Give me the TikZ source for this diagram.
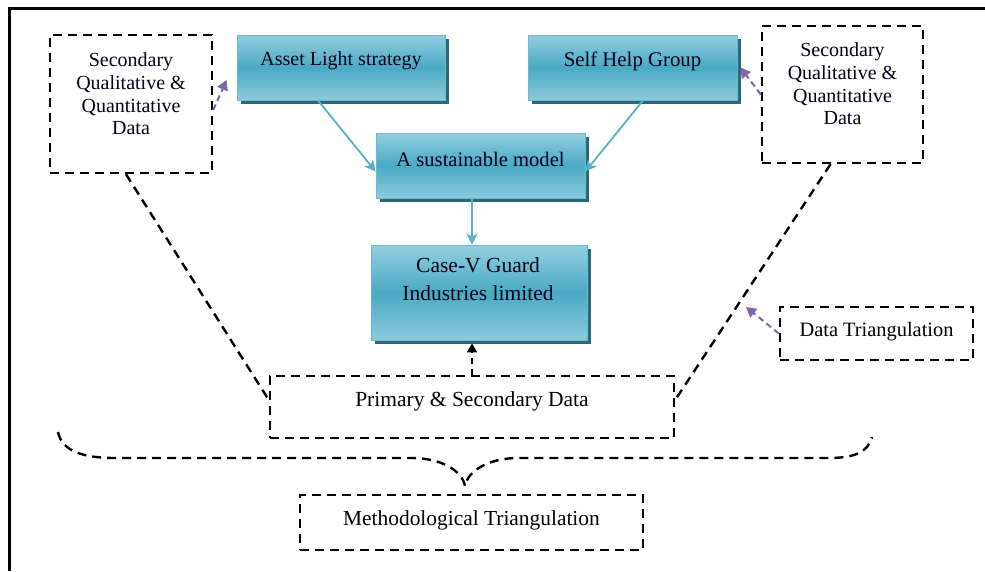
\documentclass[tikz,border=0pt]{standalone}
\usepackage{fontspec}
\setmainfont{Liberation Serif}
\usetikzlibrary{arrows.meta,shadows}
\definecolor{tealtop}{HTML}{93CFDF}
\definecolor{tealmid}{HTML}{4AA9C4}
\definecolor{tealbot}{HTML}{8CCADB}
\definecolor{tealshadow}{HTML}{2C6878}
\definecolor{tealedge}{HTML}{6DB9CD}
\definecolor{tealarrow}{HTML}{56B1C8}
\definecolor{purplearrow}{HTML}{8066A6}
\begin{document}
\begin{tikzpicture}[x=1pt,y=-1pt,
  tealbox/.style={draw=tealedge, line width=0.8pt, top color=tealtop, bottom color=tealbot, middle color=tealmid,
    drop shadow={shadow xshift=3.5pt, shadow yshift=-3.5pt, fill=tealshadow, opacity=1}, inner sep=0pt},
  dbox/.style={draw, line width=2.4pt, dash pattern=on 9pt off 6pt, fill=white, inner sep=0pt},
  dline/.style={draw, line width=2.4pt, dash pattern=on 9pt off 6pt},
  btxt/.style={inner sep=0pt, align=center, font=\fontsize{20}{22.7}\selectfont, text=black!90!blue},
  ttxt/.style={inner sep=0pt, align=center, font=\fontsize{21.4}{24}\selectfont},
  tealarr/.style={draw=tealarrow, line width=1.8pt, -{Stealth[length=11pt,width=11pt,inset=3pt]}},
  purparr/.style={draw=purplearrow, line width=2pt, dash pattern=on 6pt off 4pt, -{Triangle[length=10pt,width=11pt]}},
  blkarr/.style={draw=black, line width=1.6pt, dash pattern=on 6pt off 5pt, -{Triangle[length=9pt,width=10pt]}}
]
\fill[white] (0,0) rectangle (985,571);
\useasboundingbox (0,0) rectangle (985,571);
% frame
\draw[line width=2.7pt] (9.5,571) -- (9.5,8.7) -- (985,8.7);

% dashed boxes
\node[dbox, minimum width=162pt, minimum height=138pt] (lsq) at (131,104) {};
\node[btxt] (lsqT) at (131,94) {Secondary\\Qualitative \&\\Quantitative\\Data};
\node[dbox, minimum width=161pt, minimum height=137pt] (rsq) at (842.5,94.5) {};
\node[btxt] (rsqT) at (842.5,84) {Secondary\\Qualitative \&\\Quantitative\\Data};
\node[dbox, minimum width=404pt, minimum height=62pt] (prim) at (472,407) {};
\node[ttxt, font=\fontsize{21.5}{24}\selectfont] (primT) at (472,401) {Primary \& Secondary Data};
\node[dbox, minimum width=343pt, minimum height=55pt] (meth) at (471.5,522.5) {};
\node[ttxt] (methT) at (471.5,520) {Methodological Triangulation};
\node[dbox, minimum width=193pt, minimum height=53pt] (dtri) at (876.5,333.5) {};
\node[ttxt, font=\fontsize{20.4}{24}\selectfont] (dtriT) at (876.5,332) {Data Triangulation};

% teal boxes
\node[tealbox, minimum width=208pt, minimum height=65pt] (asset) at (341,67.5) {};
\node[btxt] (assetT) at (341,61) {Asset Light strategy};
\node[tealbox, minimum width=209pt, minimum height=65pt] (shg) at (632.5,67.5) {};
\node[btxt, font=\fontsize{20.8}{23}\selectfont] (shgT) at (632.5,61) {Self Help Group};
\node[tealbox, minimum width=209pt, minimum height=65pt] (sus) at (480.5,165.5) {};
\node[btxt, font=\fontsize{20.6}{23}\selectfont] (susT) at (480.5,159) {A sustainable model};
\node[tealbox, minimum width=216pt, minimum height=95pt] (case) at (479,292.5) {};
\node[btxt, font=\fontsize{21.5}{28}\selectfont] (caseT) at (478,279) {Case-V Guard\\Industries limited};

% diagonal dashed lines
\draw[dline] ([xshift=-5pt]lsq.south) -- ([yshift=7pt]prim.west);
\draw[dline] ([xshift=-12pt]rsq.south) -- ([yshift=7pt]prim.east);

% brace
\draw[dline] (58,432) .. controls (62,452) and (85,458) .. (115,458) -- (412,458)
  .. controls (440,458) and (462,470) .. (465,486)
  .. controls (468,470) and (490,458) .. (518,458) -- (828,458)
  .. controls (855,458) and (868,452) .. (872,437);

% teal arrows
\draw[tealarr] ([xshift=-23pt]asset.south) -- ([yshift=-6pt]sus.west);
\draw[tealarr] ([xshift=10.5pt]shg.south) -- ([yshift=-6pt]sus.east);
\draw[tealarr] ([xshift=-8.5pt]sus.south) -- ([xshift=-8.5pt]sus.south |- case.north);

% purple arrows
\draw[purparr] ([yshift=-6pt]lsq.east) -- ([xshift=-10pt,yshift=-12.5pt]asset.west);
\draw[purparr] (rsq.west) -- ([xshift=3pt]shg.east);
\coordinate (dtip) at (746,307);
\draw[purparr] (dtri.west) -- (dtip);

% black arrow
\draw[blkarr] (prim.north) -- ([yshift=-3pt]prim.north |- case.south);
\end{tikzpicture}
\end{document}
